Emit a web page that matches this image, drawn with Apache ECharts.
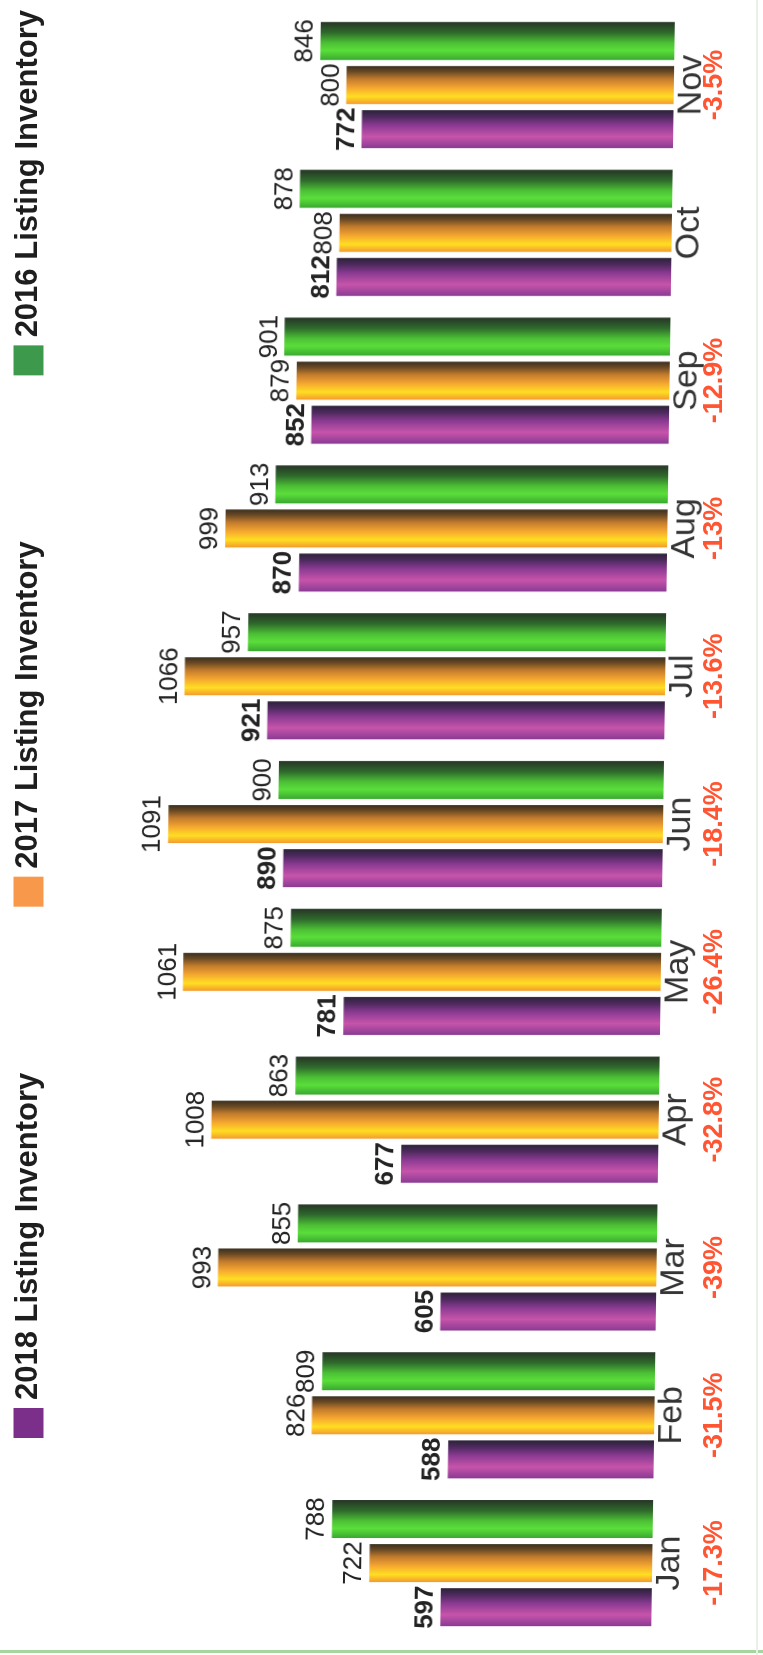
<!DOCTYPE html>
<html>
<head>
<meta charset="utf-8">
<script src="https://cdn.jsdelivr.net/npm/echarts@6/dist/echarts.min.js"></script>
<style>
  html, body { margin: 0; padding: 0; background: #fff; }
  body { width: 763px; height: 1655px; overflow: hidden; position: relative; }
  .layer { position: absolute; left: 0; top: 0; width: 1655px; height: 763px; transform-origin: 0 0; }
  /* the chart is laid out landscape and turned a quarter turn to read bottom-to-top */
  #plot { transform: translateY(1655px) rotate(-90deg) translate(827.5px, 381.5px) skewY(0.84deg) translate(-827.5px, -381.5px); }
  #overlay { transform: translateY(1655px) rotate(-90deg); }
</style>
</head>
<body>
<div id="plot" class="layer"></div>
<div id="overlay" class="layer"></div>
<script>
const months = ['Jan', 'Feb', 'Mar', 'Apr', 'May', 'Jun', 'Jul', 'Aug', 'Sep', 'Oct', 'Nov'];
const inventory2018 = [597, 588, 605, 677, 781, 890, 921, 870, 852, 812, 772];
const inventory2017 = [722, 826, 993, 1008, 1061, 1091, 1066, 999, 879, 808, 800];
const inventory2016 = [788, 809, 855, 863, 875, 900, 957, 913, 901, 878, 846];
const yearChange = ['-17.3%', '-31.5%', '-39%', '-32.8%', '-26.4%', '-18.4%', '-13.6%', '-13%', '-12.9%', '', '-3.5%'];
const seriesNames = ['2018 Listing Inventory', '2017 Listing Inventory', '2016 Listing Inventory'];

const FONT = '"Liberation Sans", Arial, sans-serif';
const G = echarts.graphic.LinearGradient;

// cylinder-style shading across each bar, lit from the left
const purpleFill = new G(0, 0, 1, 0, [
  { offset: 0, color: '#8a3a93' }, { offset: 0.3, color: '#c654aa' },
  { offset: 0.6, color: '#8b3a92' }, { offset: 0.82, color: '#4e2a5f' },
  { offset: 1, color: '#2c2238' }
]);
const orangeFill = new G(0, 0, 1, 0, [
  { offset: 0, color: '#f39a2e' }, { offset: 0.2, color: '#ffde22' },
  { offset: 0.42, color: '#f6a830' }, { offset: 0.66, color: '#c27b2c' },
  { offset: 0.85, color: '#6a4a25' }, { offset: 1, color: '#3a2e1e' }
]);
const greenFill = new G(0, 0, 1, 0, [
  { offset: 0, color: '#3aa830' }, { offset: 0.25, color: '#5ade3a' },
  { offset: 0.45, color: '#4cc035' }, { offset: 0.72, color: '#2f6a2c' },
  { offset: 1, color: '#263526' }
]);

const grid = { left: 18, right: 11, top: 48, bottom: 100, containLabel: false };

function barSeries(name, data, fill, bold) {
  return {
    name: name,
    type: 'bar',
    data: data,
    barWidth: 38,
    barGap: '16%',
    itemStyle: { color: fill },
    label: {
      show: true,
      position: 'top',
      distance: 2,
      fontFamily: FONT,
      fontSize: 26,
      fontWeight: bold ? 'bold' : 'normal',
      color: '#222'
    }
  };
}

const plot = echarts.init(document.getElementById('plot'), null, { renderer: 'canvas' });
plot.setOption({
  animation: false,
  grid: grid,
  xAxis: {
    type: 'category',
    data: months,
    axisLine: { show: false },
    axisTick: { show: false },
    axisLabel: { margin: 1, fontFamily: FONT, fontSize: 34, lineHeight: 34, color: '#333' }
  },
  yAxis: { type: 'value', min: 230, max: 1300, show: false },
  series: [
    barSeries(seriesNames[0], inventory2018, purpleFill, true),
    barSeries(seriesNames[1], inventory2017, orangeFill, false),
    barSeries(seriesNames[2], inventory2016, greenFill, false)
  ]
});

const overlay = echarts.init(document.getElementById('overlay'), null, { renderer: 'canvas' });
overlay.setOption({
  animation: false,
  grid: grid,
  legend: {
    left: 212,
    top: 8,
    itemWidth: 30,
    itemHeight: 30,
    itemGap: 166,
    icon: 'rect',
    textStyle: { fontFamily: FONT, fontSize: 31, fontWeight: 'bold', color: '#1e1e1e', padding: [0, 0, 0, 3] },
    data: [
      { name: seriesNames[0], itemStyle: { color: '#7b2f8a' } },
      { name: seriesNames[1], itemStyle: { color: '#f7984a' } },
      { name: seriesNames[2], itemStyle: { color: '#3d9a4c' } }
    ]
  },
  xAxis: {
    type: 'category',
    data: months,
    axisLine: { show: false },
    axisTick: { show: false },
    axisLabel: {
      margin: 38,
      fontFamily: FONT,
      fontSize: 27,
      lineHeight: 27,
      fontWeight: 'bold',
      color: '#ff5533',
      formatter: function (value, index) { return yearChange[index]; }
    }
  },
  yAxis: { type: 'value', min: 230, max: 1300, show: false },
  series: seriesNames.map(function (n) { return { name: n, type: 'bar', data: [] }; }),
  graphic: [
    { type: 'rect', shape: { x: 2, y: 0, width: 3, height: 763 }, style: { fill: '#a6d6a0' }, silent: true },
    { type: 'rect', shape: { x: 0, y: 756, width: 1655, height: 2 }, style: { fill: '#e8f0e8' }, silent: true }
  ]
});
</script>
</body>
</html>
